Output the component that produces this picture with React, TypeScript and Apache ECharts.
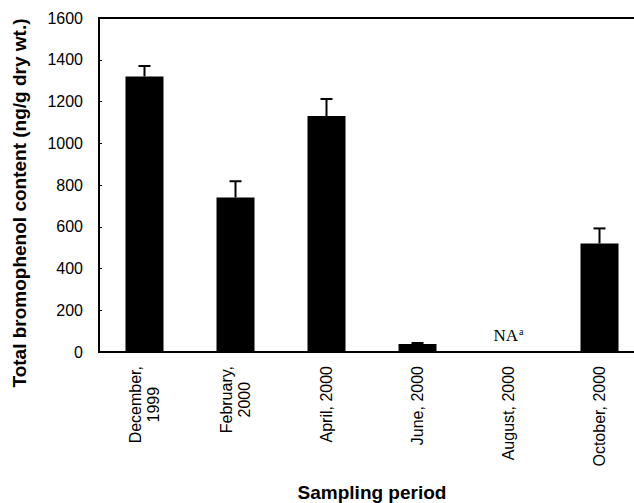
import React, { useEffect, useRef } from "react";
import * as echarts from "echarts";

const categories = [
  "December,\n1999",
  "February,\n2000",
  "April, 2000",
  "June, 2000",
  "August, 2000",
  "October, 2000",
];
const values: (number | null)[] = [1320, 740, 1130, 38, null, 520];
const errors: (number | null)[] = [50, 78, 82, 5, null, 72];
const yTicks = { min: 0, max: 1600, interval: 200 };

export default function App() {
  const ref = useRef<HTMLDivElement>(null);
  useEffect(() => {
    document.body.style.margin = "0";
    const chart = echarts.init(ref.current!, null, { renderer: "svg" });
    const barData = values.map((v, i) =>
      v === null
        ? {
            value: 0,
            label: {
              show: true,
              position: "top",
              distance: 8,
              formatter: "{n|NA}{s|a}",
              rich: {
                n: { fontFamily: "Liberation Serif", fontSize: 17, color: "#000" },
                s: {
                  fontFamily: "Liberation Serif",
                  fontSize: 10,
                  color: "#000",
                  verticalAlign: "top",
                  padding: [0, 0, 8, 1],
                },
              },
            },
          }
        : v
    );
    const errData = values
      .map((v, i) => (v === null ? null : [i, v, v + (errors[i] as number)]))
      .filter((d) => d !== null);
    chart.setOption({
      animation: false,
      grid: {
        left: 99,
        top: 18,
        width: 546,
        height: 334,
        show: true,
        borderColor: "#000",
        borderWidth: 2,
        containLabel: false,
        outerBoundsMode: "none",
      },
      xAxis: {
        type: "category",
        data: categories,
        name: "Sampling period",
        nameLocation: "middle",
        nameGap: 131,
        nameTextStyle: {
          fontFamily: "Liberation Sans",
          fontWeight: "bold",
          fontSize: 19,
          color: "#000",
        },
        axisLine: { lineStyle: { color: "#000", width: 2 } },
        axisTick: { inside: true, length: 3, lineStyle: { color: "#000" } },
        axisLabel: {
          rotate: 90,
          margin: 14,
          interval: 0,
          fontFamily: "Liberation Sans",
          fontSize: 16,
          color: "#000",
          lineHeight: 18,
          formatter: (v: string) =>
            v
              .split("\n")
              .map((s) => "{c|" + s + "}")
              .join("\n"),
          rich: {
            c: {
              align: "center",
              fontFamily: "Liberation Sans",
              fontSize: 16,
              color: "#000",
              lineHeight: 18,
            },
          },
        },
      },
      yAxis: {
        type: "value",
        min: yTicks.min,
        max: yTicks.max,
        interval: yTicks.interval,
        name: "Total bromophenol content (ng/g dry wt.)",
        nameLocation: "middle",
        nameGap: 70,
        nameTextStyle: {
          fontFamily: "Liberation Sans",
          fontWeight: "bold",
          fontSize: 19,
          color: "#000",
          padding: [0, 36, 0, 0],
        },
        splitLine: { show: false },
        axisLine: { show: true, lineStyle: { color: "#000", width: 2 } },
        axisTick: { show: true, inside: true, length: 3, lineStyle: { color: "#000" } },
        axisLabel: {
          margin: 16,
          fontFamily: "Liberation Sans",
          fontSize: 16,
          color: "#000",
          formatter: (v: number) => String(v),
        },
      },
      series: [
        {
          type: "bar",
          data: barData,
          barWidth: 38,
          itemStyle: { color: "#000" },
        },
        {
          type: "custom",
          data: errData,
          z: 3,
          renderItem: (params: any, api: any) => {
            const x = api.value(0);
            const lo = api.coord([x, api.value(1)]);
            const hi = api.coord([x, api.value(2)]);
            const cap = 6;
            return {
              type: "group",
              children: [
                {
                  type: "line",
                  shape: { x1: lo[0], y1: lo[1], x2: hi[0], y2: hi[1] },
                  style: { stroke: "#000", lineWidth: 2 },
                },
                {
                  type: "line",
                  shape: { x1: hi[0] - cap, y1: hi[1], x2: hi[0] + cap, y2: hi[1] },
                  style: { stroke: "#000", lineWidth: 2 },
                },
              ],
            };
          },
        },
      ],
    });
    return () => chart.dispose();
  }, []);
  return <div ref={ref} style={{ width: 634, height: 503 }} />;
}
